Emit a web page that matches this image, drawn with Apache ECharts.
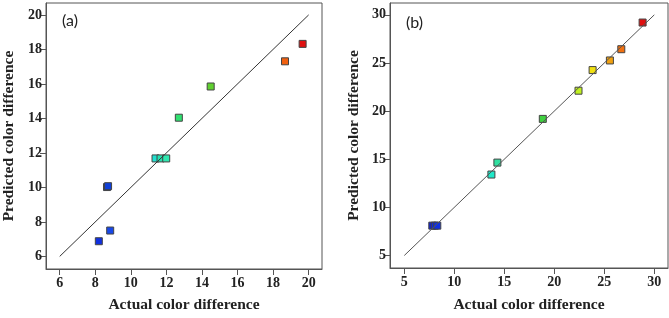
<!DOCTYPE html>
<html>
<head>
<meta charset="utf-8">
<script src="https://cdn.jsdelivr.net/npm/echarts@6/dist/echarts.min.js"></script>
<style>
body{margin:0;background:#fff;}
#charts{width:669px;height:318px;}
</style>
</head>
<body>
<div id="charts"></div>
<script>
//(a) 实测值 / 预测值
var actualA    = [8.2, 8.84, 8.66, 8.72, 11.39, 11.67, 11.99, 12.70, 14.49, 18.67, 19.66];
var predictedA = [6.88, 7.5, 10.02, 10.07, 11.68, 11.68, 11.68, 14.04, 15.85, 17.31, 18.32];
var colorA     = ['#1030e0','#1848e8','#1038d0','#1040d8','#20e0d0','#28e0b0','#30e8b0','#30e070','#60d030','#f06010','#e01010'];
var ticksA     = [6, 8, 10, 12, 14, 16, 18, 20];
var lineA      = [6, 20];

//(b)
var actualB    = [7.8, 8.05, 8.3, 13.71, 14.31, 18.85, 22.42, 23.83, 25.56, 26.7, 28.83];
var predictedB = [8.1, 8.1, 8.1, 13.41, 14.65, 19.19, 22.12, 24.26, 25.26, 26.43, 29.2];
var colorB     = ['#1020d0','#1028d8','#1030e0','#20e8c8','#30e0a0','#40d040','#c0f020','#f0e010','#f0a010','#f07010','#e01010'];
var ticksB     = [5, 10, 15, 20, 25, 30];
var lineB      = [5, 30];

var xName = 'Actual color difference';
var yName = 'Predicted color difference';

var serif = '"Liberation Serif", "DejaVu Serif", serif';

function makeAxis(idx, min, max, ticks, name, gap, isY){
	return {
		type: 'value',
		gridIndex: idx,
		min: min,
		max: max,
		name: name,
		nameLocation: 'middle',
		nameGap: gap,
		nameTextStyle: {fontFamily: serif, fontWeight: 'bold', fontSize: 15.5, color: '#222'},
		axisLine: {show: true, onZero: false, lineStyle: {color: '#555', width: 1}},
		axisTick: {show: true, length: 6, customValues: ticks, lineStyle: {color: '#555'}},
		axisLabel: {customValues: ticks, margin: isY ? 4 : 7, fontFamily: serif, fontWeight: 'bold', fontSize: 14, color: '#222'},
		splitLine: {show: false}
	};
}

function points(xs, ys, cs){
	var arr = [];
	for(var i=0;i<xs.length;i++){
		arr.push({value: [xs[i], ys[i]], itemStyle: {color: cs[i]}});
	}
	return arr;
}

var charts = echarts.init(document.getElementById('charts'));
var option = {
	animation: false,
	backgroundColor: '#fff',
	grid: [
		{left: 45, top: 3, width: 277, height: 275, show: true, borderColor: '#555', borderWidth: 1},
		{left: 390, top: 3, width: 278, height: 275, show: true, borderColor: '#555', borderWidth: 1}
	],
	title: [
		{text: '(a)', left: 57, top: 8, textStyle: {fontFamily: 'Lato', fontWeight: 'normal', fontSize: 16, color: '#222'}},
		{text: '(b)', left: 401, top: 10, textStyle: {fontFamily: 'Lato', fontWeight: 'normal', fontSize: 16, color: '#222'}}
	],
	xAxis: [
		makeAxis(0, 5.23, 20.75, ticksA, xName, 28, false),
		makeAxis(1, 3.57, 31.37, ticksB, xName, 29, false)
	],
	yAxis: [
		makeAxis(0, 5.27, 20.69, ticksA, yName, 29, true),
		makeAxis(1, 3.7, 31.23, ticksB, yName, 28, true)
	],
	series: [{
		type: 'scatter',
		xAxisIndex: 0, yAxisIndex: 0,
		symbol: 'rect',
		symbolSize: 7,
		itemStyle: {borderColor: '#444', borderWidth: 1, opacity: 1},
		data: points(actualA, predictedA, colorA),
		z: 2
	},{
		type: 'line',
		xAxisIndex: 0, yAxisIndex: 0,
		symbol: 'none',
		lineStyle: {color: '#333', width: 1},
		data: [[lineA[0], lineA[0]], [lineA[1], lineA[1]]],
		z: 3
	},{
		type: 'scatter',
		xAxisIndex: 1, yAxisIndex: 1,
		symbol: 'rect',
		symbolSize: 7,
		itemStyle: {borderColor: '#444', borderWidth: 1, opacity: 1},
		data: points(actualB, predictedB, colorB),
		z: 2
	},{
		type: 'line',
		xAxisIndex: 1, yAxisIndex: 1,
		symbol: 'none',
		lineStyle: {color: '#555', width: 1},
		data: [[lineB[0], lineB[0]], [lineB[1], lineB[1]]],
		z: 3
	}]
};
charts.setOption(option);
</script>
</body>
</html>
